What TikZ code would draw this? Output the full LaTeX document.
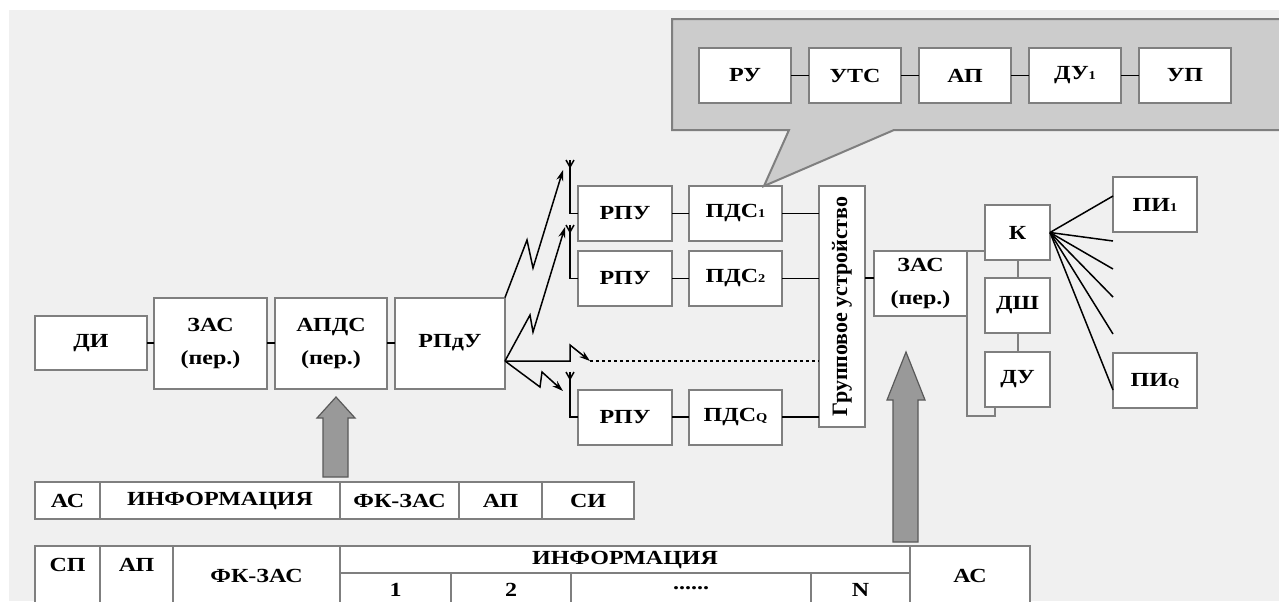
\documentclass[tikz,border=0pt]{standalone}
\usepackage{fontspec}
\setmainfont{Liberation Serif}[FakeStretch=1.2]
\newfontfamily\upfont{Liberation Serif}
\usetikzlibrary{arrows.meta, positioning, calc}
\definecolor{ink}{HTML}{000000}
\definecolor{paper}{HTML}{F0F0F0}
\definecolor{frame}{HTML}{7F7F7F}
\definecolor{balloon}{HTML}{CCCCCC}
\definecolor{fatfill}{HTML}{999999}
\definecolor{fatedge}{HTML}{595959}
\newcommand{\lowix}[1]{{\fontsize{6}{6}\selectfont #1}}
\tikzset{
  blk/.style={draw=frame, fill=white, line width=1pt, align=center, inner sep=0pt, outer sep=0pt,
              font=\bfseries\fontsize{10}{16.5}\selectfont, text=ink},
  cell/.style={draw=frame, fill=white, line width=1pt, inner sep=0pt, outer sep=0pt,
               minimum height=18.5pt, font=\bfseries\fontsize{10}{12}\selectfont, text=ink},
  lifted/.style={text height=6.6pt, text depth=11pt},
  wire/.style={draw=ink, line width=0.75pt},
  gwire/.style={draw=frame, line width=1pt},
  radio/.style={draw=ink, line width=0.75pt, -{Stealth[length=5.5pt, width=3.5pt]}},
  fat/.style={draw=fatedge, fill=fatfill, line width=0.6pt},
}

\begin{document}
\begin{tikzpicture}[x=0.5pt, y=-0.5pt, node distance=4pt]
  \useasboundingbox (0,0) rectangle (1279,601);
  \fill[white] (0,0) rectangle (1279,601);
  \fill[paper] (9,10) rectangle (1279,601);

  % transmit chain
  \node[blk, minimum width=56pt, minimum height=27pt] (di) at (91,343) {ДИ};
  \node[blk, minimum width=56.5pt, minimum height=45.5pt, right=3.5pt of di] (zas) {ЗАС\\(пер.)};
  \node[blk, minimum width=56pt, minimum height=45.5pt, right=of zas] (apds) {АПДС\\(пер.)};
  \node[blk, minimum width=55pt, minimum height=45.5pt, right=of apds] (rpdu) {РПдУ};
  \draw[wire] (di) -- (zas); \draw[wire] (zas) -- (apds); \draw[wire] (apds) -- (rpdu);

  % receivers
  \node[blk, minimum width=47pt, minimum height=27.5pt] (rpu1) at (625,213.5) {РПУ};
  \node[blk, minimum width=47pt, minimum height=27.5pt] (rpu2) at (625,278.5) {РПУ};
  \node[blk, minimum width=47pt, minimum height=27.5pt] (rpuq) at (625,417) {РПУ};
  \node[blk, minimum width=46.5pt, minimum height=27.5pt, right=8.5pt of rpu1] (pds1) {ПДС\lowix{1}};
  \node[blk, minimum width=46.5pt, minimum height=27.5pt, right=8.5pt of rpu2] (pds2) {ПДС\lowix{2}};
  \node[blk, minimum width=46.5pt, minimum height=27.5pt, right=8.5pt of rpuq] (pdsq) {ПДС\lowix{Q}};
  \node[blk, minimum width=23pt, minimum height=120.5pt] (grp) at (842,306.5) {};
  \node[rotate=90, font=\upfont\bfseries\fontsize{11}{11}\selectfont] (grptxt) at (grp.center) {Групповое устройство};
  \foreach \r/\p in {rpu1/pds1, rpu2/pds2, rpuq/pdsq} {
    \draw[wire] (\r) -- (\p);
    \draw[wire] (\p) -- (\p -| grp.west);
  }

  % aerials
  \coordinate (ant1) at (570,160);
  \coordinate (ant2) at (570,225);
  \coordinate (antq) at (570,372);
  \foreach \a/\r in {ant1/rpu1, ant2/rpu2, antq/rpuq} {
    \draw[wire] (\r.west) -| (\a);
    \draw[wire] ([xshift=-2pt]\a) -- ([yshift=-3.5pt]\a) -- ([xshift=2pt]\a);
  }

  % radio links
  \coordinate (tx) at (505,361);
  \coordinate (gap) at (590,361);
  \draw[radio] (rpdu.north east) -- (527,240) -- (533,268) -- (563,170);
  \draw[radio] (tx) -- (530,315) -- (533,332) -- (565,227);
  \draw[radio] (tx) -- (570,361) -- (570,345) -- (gap);
  \draw[radio] (tx) -- (540,387) -- (542,372) -- (563,391);
  \draw[wire, dash pattern=on 1.6pt off 1.4pt] (gap) -- (gap -| grp.west);

  % receive side
  \node[blk, minimum width=46.5pt, minimum height=32.5pt] (zasr) at (920.5,283.5) {ЗАС\\(пер.)};
  \node[blk, minimum width=32.5pt, minimum height=27.5pt] (kk) at (1017.5,232.5) {К};
  \node[blk, minimum width=32.5pt, minimum height=27.5pt, below=9pt of kk] (dsh) {ДШ};
  \node[blk, minimum width=32.5pt, minimum height=27.5pt, below=9.5pt of dsh] (du) {ДУ};
  \node[blk, minimum width=42pt, minimum height=27.5pt] (pi1) at (1155,204.5) {ПИ\lowix{1}};
  \node[blk, minimum width=42pt, minimum height=27.5pt] (piq) at (1155,380.5) {ПИ\lowix{Q}};
  \draw[wire] (grp.east |- zasr.west) ++(0,-5.5) -- ([yshift=2.75pt]zasr.west);
  \draw[gwire] (kk) -- (dsh); \draw[gwire] (dsh) -- (du);
  \draw[gwire] (kk.west |- zasr.north east) -- (zasr.north east)
    |- ([xshift=5pt, yshift=-4.5pt]du.south west) -- ([xshift=5pt]du.south west);
  \foreach \y [count=\i] in {241,269,297,334} \coordinate (leg\i) at (1113,\y);
  \draw[wire] (kk.east) -- ([yshift=4.25pt]pi1.west);
  \foreach \i in {1,...,4} \draw[wire] (kk.east) -- (leg\i);
  \draw[wire] (kk.east) -- ([yshift=-4.75pt]piq.west);

  % callout
  \coordinate (tip) at ([xshift=14.25pt]pds1.north);
  \draw[draw=frame, fill=balloon, line width=1pt]
    (672,19) -- (1290,19) -- (1290,130) -- (894,130) -- (tip) -- (789,130) -- (672,130) -- cycle;
  \node[blk, minimum width=46pt, minimum height=27.5pt] (ru) at (745,75.5) {РУ};
  \node[blk, minimum width=46pt, minimum height=27.5pt, right=9pt of ru] (uts) {УТС};
  \node[blk, minimum width=46pt, minimum height=27.5pt, right=9pt of uts] (ap) {АП};
  \node[blk, minimum width=46pt, minimum height=27.5pt, right=9pt of ap] (du1) {ДУ\lowix{1}};
  \node[blk, minimum width=46pt, minimum height=27.5pt, right=9pt of du1] (up) {УП};
  \draw[wire] (ru) -- (uts); \draw[wire] (uts) -- (ap);
  \draw[wire] (ap) -- (du1); \draw[wire] (du1) -- (up);

  % wide arrows
  \draw[fat] (323,477) -- (323,418) -- (317,418) -- (336,397) -- (355,418) -- (348,418) -- (348,477) -- cycle;
  \draw[fat] (893,542) -- (893,400) -- (887,400) -- (906,352) -- (925,400) -- (918,400) -- (918,542) -- cycle;

  % frame formats
  \node[cell, minimum width=32.5pt] (fa) at (67.5,500.5) {АС};
  \node[cell, minimum width=120pt, right=0pt of fa] (fb) {ИНФОРМАЦИЯ};
  \node[cell, minimum width=59.5pt, right=0pt of fb] (fc) {ФК-ЗАС};
  \node[cell, minimum width=41.5pt, right=0pt of fc] (fd) {АП};
  \node[cell, minimum width=46pt, right=0pt of fd] (fe) {СИ};

  \node[cell, lifted, minimum width=32.5pt, minimum height=30pt, anchor=north west] (ga) at (35,546) {СП};
  \node[cell, lifted, minimum width=36.5pt, minimum height=30pt, right=0pt of ga] (gb) {АП};
  \node[cell, minimum width=83.5pt, minimum height=30pt, right=0pt of gb] (gc) {ФК-ЗАС};
  \node[cell, minimum width=285pt, minimum height=13.5pt, anchor=north west] (ginf) at (gc.north east) {ИНФОРМАЦИЯ};
  \node[cell, minimum width=55.5pt, minimum height=17pt, anchor=north west] (g1) at (ginf.south west) {1};
  \node[cell, minimum width=60pt, minimum height=17pt, right=0pt of g1] (g2) {2};
  \node[cell, minimum width=120pt, minimum height=17pt, right=0pt of g2] (gdots) {\raisebox{2pt}{......}};
  \node[cell, minimum width=49.5pt, minimum height=17pt, right=0pt of gdots] (gn) {N};
  \node[cell, minimum width=60pt, minimum height=30pt, anchor=north west] (gas) at (ginf.north east) {АС};
\end{tikzpicture}
\end{document}
